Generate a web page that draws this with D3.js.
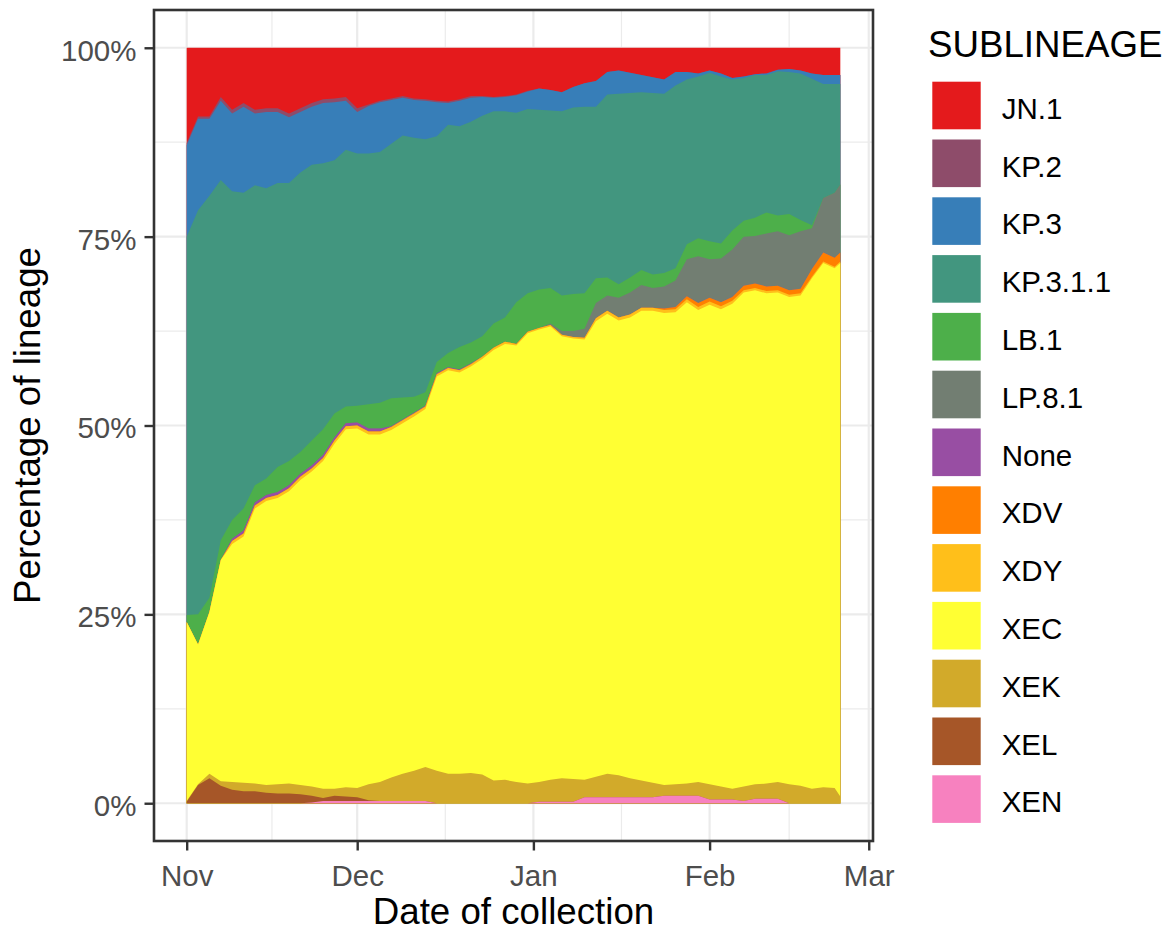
<!DOCTYPE html>
<html>
<head>
<meta charset="utf-8">
<script src="https://cdn.jsdelivr.net/npm/d3@7"></script>
<style>
  body { margin: 0; background: #fff; }
  text { font-family: "Liberation Sans", Arial, sans-serif; }
</style>
</head>
<body>
<svg id="chart" width="1163" height="932"></svg>
<script>
// collection dates (every second day, plus the last day)
var dates = [
  "2024-11-01","2024-11-03","2024-11-05","2024-11-07","2024-11-09","2024-11-11","2024-11-13","2024-11-15",
  "2024-11-17","2024-11-19","2024-11-21","2024-11-23","2024-11-25","2024-11-27","2024-11-29",
  "2024-12-01","2024-12-03","2024-12-05","2024-12-07","2024-12-09","2024-12-11","2024-12-13","2024-12-15",
  "2024-12-17","2024-12-19","2024-12-21","2024-12-23","2024-12-25","2024-12-27","2024-12-29","2024-12-31",
  "2025-01-02","2025-01-04","2025-01-06","2025-01-08","2025-01-10","2025-01-12","2025-01-14","2025-01-16",
  "2025-01-18","2025-01-20","2025-01-22","2025-01-24","2025-01-26","2025-01-28","2025-01-30",
  "2025-02-01","2025-02-03","2025-02-05","2025-02-07","2025-02-09","2025-02-11","2025-02-13","2025-02-15",
  "2025-02-17","2025-02-19","2025-02-21","2025-02-23","2025-02-24"
];

var lineages = ["JN.1","KP.2","KP.3","KP.3.1.1","LB.1","LP.8.1","None","XDV","XDY","XEC","XEK","XEL","XEN"];
var colors = ["#E41A1C","#8E4C6A","#377EB8","#42967F","#4DAF4A","#727E72","#984EA3",
              "#FF7F00","#FFBF1A","#FFFF33","#D2AA2A","#A65628","#F781BF"];

// percentage of sequences per lineage
var JN1 = [12.6,9.1,9.1,6.5,8.2,7.3,8.2,8.0,8.0,8.7,8.0,7.3,6.8,6.7,6.5,
  8.0,7.5,7.0,6.7,6.4,6.7,6.8,7.0,7.1,6.8,6.4,6.4,6.5,6.4,6.2,5.7,
  5.4,5.6,5.9,5.2,4.7,4.4,3.2,3.0,3.3,3.6,3.9,4.2,3.2,3.2,3.4,
  3.0,3.4,4.0,3.8,3.5,3.4,2.9,2.8,3.0,3.4,3.6,3.6,3.6];
var KP2 = [0.3,0.3,0.3,0.5,0.5,0.5,0.5,0.5,0.5,0.5,0.5,0.5,0.5,0.5,0.5,
  0.5,0.2,0.2,0.2,0.2,0.2,0.2,0.2,0.2,0.2,0.2,0.1,0.1,0.1,0.1,0.1,
  0,0,0,0,0,0,0,0,0,0,0,0,0,0,0,
  0,0,0,0,0,0,0,0,0,0,0,0,0];
var KP3 = [12.1,12.1,10.2,10.5,10.3,11.4,9.5,10.1,9.4,8.7,8.0,7.7,8.0,7.7,6.5,
  5.5,6.3,6.6,5.8,5.0,5.0,5.1,4.5,2.9,3.4,3.2,2.5,1.8,1.9,2.3,2.3,
  2.8,2.7,2.5,2.7,3.1,3.4,3.0,3.1,2.7,2.3,2.1,1.9,1.8,1.0,0.4,
  0.3,0.4,0.2,0.2,0.1,0.2,0.2,0.4,0.4,0.7,1.2,1.2,1.2];
var KP311 = [50.1,53.5,53.2,47.7,43.5,41.8,39.7,38.4,37.6,36.8,37.0,36.5,35.2,33.5,34.0,
  33.4,33.2,33.2,33.7,34.7,34.3,33.5,29.9,30.2,29.2,29.2,29.2,28.1,27.3,25.1,24.4,
  23.8,23.5,24.4,24.7,24.7,22.7,24.2,25.2,24.4,23.5,24.0,23.7,24.2,21.8,21.4,
  22.3,22.1,20.0,18.9,18.9,18.2,19.1,18.8,19.4,19.4,15.1,14.4,13.3];
var LB1 = [0.9,4.0,1.9,2.6,2.5,2.9,2.3,2.2,3.3,3.2,2.9,3.3,3.4,3.2,2.2,
  2.2,3.2,3.4,3.7,2.9,2.1,1.8,1.5,1.9,3.0,2.8,2.7,3.2,3.2,5.5,5.1,
  5.1,4.7,4.7,4.9,4.7,3.3,2.4,1.8,2.0,2.0,1.8,1.8,1.6,2.0,2.4,
  2.4,2.0,2.5,2.1,2.4,2.8,2.1,2.8,1.5,0.4,0,0,0];
var LP81 = [0,0,0,0,0,0,0,0,0,0,0,0,0,0,0,
  0,0,0,0,0,0,0,0,0,0,0,0,0,0,0,0,
  0,0.2,0.5,0.8,1.2,2.0,2.0,2.6,2.9,3.0,2.6,2.9,3.5,4.9,6.2,
  5.1,5.8,6.3,6.5,6.3,7.0,7.2,7.3,7.6,5.4,7.2,8.6,9.0];
var NONE = [0,0,0,0,0.3,0.4,0.4,0.4,0.4,0.4,0.4,0.4,0.4,0.4,0.4,
  0.4,0.4,0.4,0.1,0.1,0.1,0.1,0.1,0.1,0.1,0.1,0,0,0,0,0,
  0,0,0,0,0,0,0,0,0,0,0,0,0,0,0,
  0,0,0,0,0,0,0,0,0,0,0,0,0];
var XDV = [0,0,0,0,0,0,0,0,0,0,0,0,0,0,0,
  0,0,0,0,0,0,0,0,0,0,0,0,0,0,0,0,
  0,0,0,0,0,0,0,0,0,0,0,0.2,0.3,0.4,0.5,
  0.5,0.5,0.5,0.6,0.6,0.6,0.6,0.6,0.6,1.0,1.2,1.2,1.2];
var XDY = [0,0,0,0,0.4,0.4,0.4,0.4,0.4,0.4,0.4,0.4,0.4,0.4,0.4,
  0.4,0.4,0.4,0.4,0.4,0.4,0.3,0.3,0.3,0.3,0.3,0.3,0.3,0.3,0.2,0.2,
  0.2,0.2,0.2,0.2,0.2,0.4,0.4,0.4,0.4,0.4,0.4,0.4,0.4,0.4,0.4,
  0.4,0.4,0.4,0.3,0.3,0.3,0.3,0.3,0.3,0.2,0.2,0.2,0.2];
var XEC = [23.7,18.5,21.4,29.3,31.5,32.6,36.4,37.6,37.9,38.7,40.4,41.7,43.4,45.7,47.4,
  47.6,46.3,46.0,46.0,46.4,46.9,47.4,52.2,53.4,53.1,53.8,55.0,57.0,57.7,57.8,59.6,
  59.9,60.0,58.5,58.3,58.3,60.3,60.9,60.2,61.0,62.2,62.5,62.5,62.5,63.7,62.5,
  63.5,63.2,64.2,65.4,65.4,64.9,64.8,64.5,64.9,67.6,69.4,68.8,70.6];
var XEK = [0.1,0.1,0.6,0.6,1.0,1.1,1.0,1.0,1.2,1.3,1.2,1.2,1.2,0.9,1.2,
  1.2,2.1,2.5,3.1,3.6,4.0,4.5,4.3,3.9,3.9,4.0,3.8,3.0,3.1,2.8,2.6,
  2.6,2.9,3.1,3.0,2.3,2.7,3.1,2.9,2.5,2.2,1.9,1.4,1.5,1.6,1.8,
  2.0,1.7,1.4,1.9,1.9,2.0,2.2,2.5,2.3,1.9,2.1,2.0,0.9];
var XEL = [0.2,2.4,3.3,2.3,1.8,1.6,1.6,1.4,1.3,1.3,1.2,0.9,0.4,0.7,0.6,
  0.5,0.1,0,0,0,0,0,0,0,0,0,0,0,0,0,0,
  0,0,0,0,0,0,0,0,0,0,0,0,0,0,0,
  0,0,0,0,0,0,0,0,0,0,0,0,0];
var XEN = [0,0,0,0,0,0,0,0,0,0,0,0.1,0.3,0.3,0.3,
  0.3,0.3,0.3,0.3,0.3,0.3,0.3,0,0,0,0,0,0,0,0,0,
  0.2,0.2,0.2,0.2,0.8,0.8,0.8,0.8,0.8,0.8,0.8,1.0,1.0,1.0,1.0,
  0.5,0.5,0.5,0.3,0.6,0.6,0.6,0,0,0,0,0,0];

var yTicks = [0, 0.25, 0.5, 0.75, 1];
var yMinor = [0.125, 0.375, 0.625, 0.875];
var xTicks = ["2024-11-01","2024-12-01","2025-01-01","2025-02-01","2025-03-01"];

var valuesByLineage = {
  "JN.1": JN1, "KP.2": KP2, "KP.3": KP3, "KP.3.1.1": KP311, "LB.1": LB1, "LP.8.1": LP81,
  "None": NONE, "XDV": XDV, "XDY": XDY, "XEC": XEC, "XEK": XEK, "XEL": XEL, "XEN": XEN
};

var parse = d3.utcParse("%Y-%m-%d");
var rows = dates.map(function(d, i) {
  var r = { date: parse(d) };
  lineages.forEach(function(k) { r[k] = valuesByLineage[k][i]; });
  return r;
});

var svg = d3.select("#chart");
var panel = { left: 154, right: 873, top: 10, bottom: 841 };
var padX = (panel.right - panel.left) * 0.05 / 1.1;
var padY = (panel.bottom - panel.top) * 0.05 / 1.1;

var x = d3.scaleUtc()
  .domain(d3.extent(rows, function(d) { return d.date; }))
  .range([panel.left + padX, panel.right - padX]);
var y = d3.scaleLinear()
  .domain([0, 1])
  .range([panel.bottom - padY, panel.top + padY]);
var color = d3.scaleOrdinal().domain(lineages).range(colors);

svg.append("rect").attr("width", 1163).attr("height", 932).attr("fill", "#fff");

// grid
var grid = svg.append("g");
var xt = xTicks.map(parse);
var xMinor = [];
for (var i = 0; i < xt.length - 1; i++) xMinor.push(new Date((+xt[i] + +xt[i + 1]) / 2));

grid.selectAll(".ymin").data(yMinor).enter().append("line")
  .attr("x1", panel.left).attr("x2", panel.right)
  .attr("y1", function(d) { return y(d); }).attr("y2", function(d) { return y(d); })
  .attr("stroke", "#EBEBEB").attr("stroke-width", 1.2);
grid.selectAll(".xmin").data(xMinor).enter().append("line")
  .attr("y1", panel.top).attr("y2", panel.bottom)
  .attr("x1", function(d) { return x(d); }).attr("x2", function(d) { return x(d); })
  .attr("stroke", "#EBEBEB").attr("stroke-width", 1.2);
grid.selectAll(".ymaj").data(yTicks).enter().append("line")
  .attr("x1", panel.left).attr("x2", panel.right)
  .attr("y1", function(d) { return y(d); }).attr("y2", function(d) { return y(d); })
  .attr("stroke", "#EBEBEB").attr("stroke-width", 2.2);
grid.selectAll(".xmaj").data(xt).enter().append("line")
  .attr("y1", panel.top).attr("y2", panel.bottom)
  .attr("x1", function(d) { return x(d); }).attr("x2", function(d) { return x(d); })
  .attr("stroke", "#EBEBEB").attr("stroke-width", 2.2);

// stacked areas (position = fill); XEN at the bottom
var stack = d3.stack()
  .keys(lineages.slice().reverse())
  .offset(d3.stackOffsetExpand);
var layers = stack(rows);

// paint from the top layer down, each from 0 to its upper edge, so no seams
var area = d3.area()
  .x(function(d) { return x(d.data.date); })
  .y0(y(0))
  .y1(function(d) { return y(d[1]); });

svg.append("g").selectAll("path")
  .data(layers.slice().reverse())
  .enter().append("path")
    .attr("d", area)
    .attr("fill", function(d) { return color(d.key); });

// panel border
svg.append("rect")
  .attr("x", panel.left).attr("y", panel.top)
  .attr("width", panel.right - panel.left).attr("height", panel.bottom - panel.top)
  .attr("fill", "none").attr("stroke", "#333333").attr("stroke-width", 2.6);

// axes
var yAxis = svg.append("g")
  .attr("transform", "translate(" + panel.left + ",0)")
  .call(d3.axisLeft(y).tickValues(yTicks).tickFormat(d3.format(".0%")).tickSize(9.5).tickPadding(8));
var xAxis = svg.append("g")
  .attr("transform", "translate(0," + panel.bottom + ")")
  .call(d3.axisBottom(x).tickValues(xt).tickFormat(d3.utcFormat("%b")).tickSize(9.5).tickPadding(15));

[yAxis, xAxis].forEach(function(ax) {
  ax.select(".domain").remove();
  ax.selectAll(".tick line").attr("stroke", "#333333").attr("stroke-width", 2.4);
  ax.selectAll(".tick text")
    .attr("fill", "#4D4D4D")
    .style("font-size", "29.5px")
    .style("font-family", "'Liberation Sans', Arial, sans-serif");
});
yAxis.selectAll(".tick text").attr("dy", "0.42em");

// axis titles
svg.append("text")
  .attr("x", (panel.left + panel.right) / 2).attr("y", 923.5)
  .attr("text-anchor", "middle")
  .style("font-size", "36.7px").attr("fill", "#000")
  .text("Date of collection");
svg.append("text")
  .attr("transform", "translate(40," + ((panel.top + panel.bottom) / 2) + ") rotate(-90)")
  .attr("text-anchor", "middle")
  .style("font-size", "36.7px").attr("fill", "#000")
  .text("Percentage of lineage");

// legend
var legend = svg.append("g");
legend.append("text")
  .attr("x", 928).attr("y", 56.7)
  .style("font-size", "36.7px").attr("fill", "#000")
  .text("SUBLINEAGE");

var keyPitch = 57.8;
var item = legend.selectAll(".item").data(lineages).enter().append("g")
  .attr("transform", function(d, i) { return "translate(932.3," + (81.7 + i * keyPitch) + ")"; });
item.append("rect")
  .attr("width", 48.4).attr("height", 47.6)
  .attr("fill", function(d) { return color(d); });
item.append("text")
  .attr("x", 69.4).attr("y", 26.5).attr("dy", "0.36em")
  .style("font-size", "29.5px").attr("fill", "#000")
  .text(function(d) { return d; });
</script>
</body>
</html>
